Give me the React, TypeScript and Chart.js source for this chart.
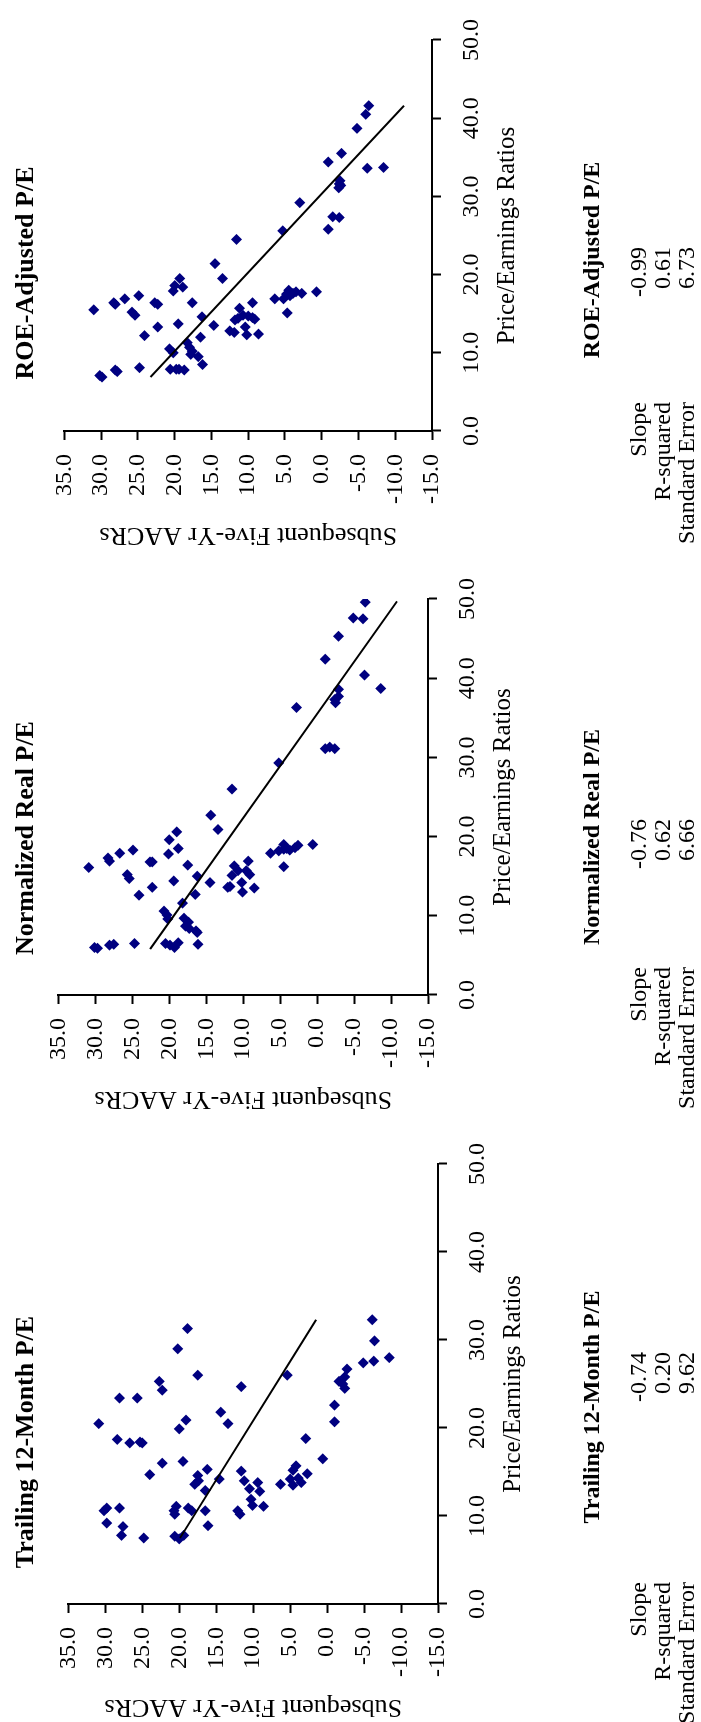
import React, { useEffect, useRef } from "react";
import { Chart, registerables } from "chart.js";

Chart.register(...registerables);

const FONT = "'Liberation Serif', 'Times New Roman', Times, serif";

const peTicks = [0, 10, 20, 30, 40, 50];
const aacrTicks = [-15, -10, -5, 0, 5, 10, 15, 20, 25, 30, 35];

// Trailing 12-Month P/E
const trailingPE = [31.3, 29.0, 26.0, 25.3, 24.3, 23.4, 23.4, 24.7, 26.0, 32.3, 29.9, 27.4, 27.6, 28.0, 26.7, 25.3, 25.8, 25.0, 24.5, 22.6, 20.7, 18.8, 16.5, 21.8, 20.5, 20.5, 20.9, 19.9, 18.7, 18.3, 18.4, 18.3, 16.2, 16.0, 14.7, 15.3, 14.6, 14.0, 13.6, 12.9, 14.2, 15.1, 14.0, 13.1, 13.8, 12.8, 11.9, 11.2, 11.1, 10.6, 10.2, 13.6, 14.2, 13.5, 15.7, 15.2, 14.3, 13.8, 14.8, 10.9, 10.6, 10.9, 9.2, 8.8, 7.8, 7.5, 10.2, 11.1, 10.6, 10.9, 10.6, 10.6, 8.9, 7.7, 7.4, 7.8];
const trailingAACR = [18.9, 20.2, 17.5, 22.7, 22.3, 28.1, 25.7, 11.6, 5.4, -6.1, -6.4, -4.9, -6.3, -8.4, -2.7, -1.6, -2.4, -2.1, -2.4, -1.0, -1.0, 2.9, 0.6, 14.4, 13.4, 30.9, 19.1, 20.0, 28.4, 26.7, 25.3, 25.0, 19.5, 22.3, 24.0, 16.2, 17.5, 17.4, 17.9, 16.5, 14.6, 11.6, 11.2, 10.5, 9.4, 9.1, 10.3, 10.1, 8.6, 12.1, 11.8, 6.3, 5.0, 4.6, 4.2, 4.6, 3.9, 3.5, 2.7, 29.8, 30.2, 28.1, 29.8, 27.6, 27.8, 24.8, 20.6, 20.4, 20.7, 18.8, 18.3, 16.5, 16.1, 20.6, 20.0, 19.4];
const trailingFitPE = [7.5, 32.3];
const trailingFitAACR = [19.9, 1.5];

// Normalized Real P/E
const normalizedPE = [49.6, 47.6, 47.5, 45.3, 42.4, 40.4, 38.7, 38.6, 37.7, 36.9, 37.3, 36.3, 31.1, 31.3, 31.1, 29.3, 26.0, 22.7, 20.9, 20.6, 19.6, 17.8, 18.5, 18.3, 17.9, 17.3, 16.9, 16.1, 16.8, 16.8, 16.4, 15.2, 14.7, 14.4, 15.0, 14.2, 12.6, 13.6, 12.7, 11.6, 10.6, 10.1, 9.6, 9.7, 9.2, 8.7, 8.4, 8.1, 7.9, 6.4, 6.0, 5.9, 6.3, 6.4, 6.5, 6.5, 6.3, 6.0, 6.6, 15.1, 16.3, 13.7, 13.6, 15.7, 14.2, 13.0, 15.7, 15.2, 16.9, 13.5, 17.9, 18.2, 18.4, 18.5, 18.3, 18.6, 18.9, 19.0, 19.0, 16.2];
const normalizedAACR = [-6.5, -4.9, -6.2, -2.9, -1.1, -6.4, -8.6, -2.9, -2.9, -2.5, -2.4, 2.8, -1.1, -1.7, -2.4, 5.2, 11.5, 14.4, 13.4, 19.0, 20.0, 20.1, 18.8, 24.9, 26.7, 28.3, 28.1, 30.9, 22.6, 22.3, 17.5, 25.7, 25.4, 19.4, 16.2, 14.5, 24.1, 22.3, 16.5, 18.2, 20.7, 20.3, 20.2, 18.0, 17.4, 17.8, 17.3, 16.4, 16.2, 16.1, 30.1, 29.7, 28.1, 27.5, 24.7, 20.5, 19.9, 19.3, 18.8, 11.5, 11.2, 11.8, 12.1, 10.7, 10.2, 10.1, 9.6, 9.1, 9.3, 8.5, 6.3, 5.2, 4.5, 4.1, 3.7, 3.0, 2.6, 4.5, 0.6, 4.5];
const normalizedFitPE = [5.8, 49.7];
const normalizedFitAACR = [22.6, -10.8];

// ROE-Adjusted P/E
const roePE = [41.6, 40.5, 38.7, 35.5, 34.4, 33.6, 33.7, 32.0, 31.6, 31.4, 31.1, 29.2, 27.4, 27.3, 25.8, 25.6, 24.5, 21.4, 19.5, 19.5, 18.6, 17.9, 18.4, 17.3, 16.9, 16.4, 16.2, 15.5, 16.4, 16.2, 16.4, 15.2, 14.8, 13.7, 14.6, 13.5, 12.2, 13.3, 12.0, 11.3, 10.7, 10.2, 10.5, 10.0, 9.8, 9.5, 8.5, 7.1, 6.9, 7.8, 7.6, 8.1, 7.9, 7.9, 7.9, 7.8, 15.7, 14.2, 14.4, 14.8, 14.7, 14.5, 14.3, 12.8, 12.6, 13.3, 12.3, 12.4, 16.4, 16.9, 16.9, 17.5, 18.0, 17.3, 17.6, 17.8, 17.6, 15.1, 17.8];
const roeAACR = [-6.4, -6.0, -4.8, -2.7, -0.9, -6.2, -8.4, -2.5, -2.4, -2.6, -2.3, 3.0, -1.5, -2.4, -0.9, 5.3, 11.6, 14.5, 13.5, 19.3, 20.0, 20.2, 18.9, 24.9, 26.8, 28.3, 28.1, 31.0, 22.7, 22.3, 17.6, 25.8, 25.4, 19.5, 16.3, 14.7, 24.1, 22.3, 16.5, 18.3, 18.0, 17.6, 20.7, 20.2, 17.8, 16.8, 16.2, 30.2, 29.9, 28.1, 27.8, 24.8, 20.6, 19.8, 19.4, 18.7, 11.2, 11.8, 11.4, 10.7, 10.0, 9.4, 9.1, 12.5, 11.9, 10.4, 10.2, 8.6, 9.4, 6.4, 5.2, 4.8, 4.5, 4.3, 3.9, 3.5, 2.7, 4.7, 0.7];
const roeFitPE = [6.9, 41.6];
const roeFitAACR = [23.3, -11.2];

const statLabels = ["Slope", "R-squared", "Standard Error"];
const trailingStats = ["-0.74", "0.20", "9.62"];
const normalizedStats = ["-0.76", "0.62", "6.66"];
const roeStats = ["-0.99", "0.61", "6.73"];

const panelTitles = ["Trailing 12-Month P/E", "Normalized Real P/E", "ROE-Adjusted P/E"];
const xTitle = "Price/Earnings Ratios";
const yTitle = "Subsequent Five-Yr AACRs";

type PanelProps = {
  pe: number[];
  aacr: number[];
  fitPE: number[];
  fitAACR: number[];
  left: number;
  top: number;
  width: number;
  height: number;
  yAxisWidth: number;
  padRight: number;
};

function ScatterPanel(p: PanelProps) {
  const ref = useRef<HTMLCanvasElement>(null);
  useEffect(() => {
    const tickFont = { family: FONT, size: 24 };
    const chart = new Chart(ref.current as HTMLCanvasElement, {
      type: "scatter",
      data: {
        datasets: [
          {
            type: "line",
            data: p.fitPE.map((x, i) => ({ x, y: p.fitAACR[i] })),
            borderColor: "#000000",
            borderWidth: 2,
            pointRadius: 0,
            fill: false,
            order: 0,
          } as any,
          {
            data: p.pe.map((x, i) => ({ x, y: p.aacr[i] })),
            pointStyle: "rectRot",
            pointRadius: 5.5,
            backgroundColor: "#000080",
            borderColor: "#000080",
            borderWidth: 0,
            order: 1,
          },
        ],
      },
      options: {
        animation: false,
        responsive: false,
        maintainAspectRatio: false,
        devicePixelRatio: 1,
        events: [],
        layout: { padding: { top: 20, right: p.padRight, left: 0, bottom: 0 } },
        plugins: { legend: { display: false }, tooltip: { enabled: false }, title: { display: false } },
        scales: {
          x: {
            type: "linear",
            position: "bottom",
            min: 0,
            max: 50,
            afterBuildTicks: (s: any) => {
              s.ticks = peTicks.map((v) => ({ value: v }));
            },
            afterFit: (s: any) => {
              s.height = 90;
            },
            ticks: {
              callback: (v: any) => Number(v).toFixed(1),
              font: tickFont,
              color: "#000000",
              padding: 16,
              maxRotation: 0,
              minRotation: 0,
              autoSkip: false,
            },
            grid: { drawOnChartArea: false, drawTicks: true, tickLength: 9, tickWidth: 2, tickColor: "#000000" },
            border: { display: true, color: "#000000", width: 2 },
            title: { display: true, text: xTitle, font: { family: FONT, size: 25 }, color: "#000000", padding: 0 },
          },
          y: {
            type: "linear",
            position: "left",
            min: -15,
            max: 35,
            afterBuildTicks: (s: any) => {
              s.ticks = aacrTicks.map((v) => ({ value: v }));
            },
            afterFit: (s: any) => {
              s.width = p.yAxisWidth;
            },
            ticks: {
              callback: (v: any) => Number(v).toFixed(1),
              font: tickFont,
              color: "#000000",
              padding: 14,
              autoSkip: false,
            },
            grid: { drawOnChartArea: false, drawTicks: true, tickLength: 9, tickWidth: 2, tickColor: "#000000" },
            border: { display: true, color: "#000000", width: 2 },
            title: { display: true, text: yTitle, font: { family: FONT, size: 26 }, color: "#000000", padding: 0 },
          },
        },
      } as any,
    });
    return () => chart.destroy();
  }, []);
  return (
    <canvas
      ref={ref}
      width={p.width}
      height={p.height}
      style={{ position: "absolute", left: p.left, top: p.top, width: p.width, height: p.height }}
    />
  );
}

function CenterText(props: { cx: number; top: number; size: number; bold?: boolean; text: string }) {
  return (
    <div
      style={{
        position: "absolute",
        left: props.cx - 300,
        width: 600,
        top: props.top,
        textAlign: "center",
        fontSize: props.size,
        lineHeight: props.size + "px",
        fontWeight: props.bold ? "bold" : "normal",
        whiteSpace: "nowrap",
      }}
    >
      {props.text}
    </div>
  );
}

function RightText(props: { right: number; top: number; size: number; text: string }) {
  return (
    <div
      style={{
        position: "absolute",
        left: props.right - 400,
        width: 400,
        top: props.top,
        textAlign: "right",
        fontSize: props.size,
        lineHeight: props.size + "px",
        whiteSpace: "nowrap",
      }}
    >
      {props.text}
    </div>
  );
}

function Stats(props: { titleCx: number; labelRight: number; valueRight: number; title: string; values: string[] }) {
  const rowTops = [626, 650, 674];
  return (
    <>
      <CenterText cx={props.titleCx} top={579} size={24} bold text={props.title} />
      {statLabels.map((l, i) => (
        <RightText key={"l" + i} right={props.labelRight} top={rowTops[i]} size={24} text={l} />
      ))}
      {props.values.map((v, i) => (
        <RightText key={"v" + i} right={props.valueRight} top={rowTops[i]} size={24} text={v} />
      ))}
    </>
  );
}

export default function App() {
  return (
    <div
      style={{
        position: "fixed",
        left: 0,
        top: 0,
        width: 1722,
        height: 701,
        overflow: "hidden",
        background: "#ffffff",
        color: "#000000",
        fontFamily: FONT,
        transformOrigin: "0 0",
        transform: "translateY(1722px) rotate(-90deg)",
      }}
    >
      <ScatterPanel pe={trailingPE} aacr={trailingAACR} fitPE={trailingFitPE} fitAACR={trailingFitAACR}
        left={0} top={40} width={595} height={488} yAxisWidth={118} padRight={30} />
      <ScatterPanel pe={normalizedPE} aacr={normalizedAACR} fitPE={normalizedFitPE} fitAACR={normalizedFitAACR}
        left={608} top={30} width={552} height={488} yAxisWidth={119} padRight={30} />
      <ScatterPanel pe={roePE} aacr={roeAACR} fitPE={roeFitPE} fitAACR={roeFitAACR}
        left={1172} top={36} width={547} height={486} yAxisWidth={119} padRight={25} />

      <CenterText cx={280} top={12} size={26} bold text={panelTitles[0]} />
      <CenterText cx={884} top={12} size={26} bold text={panelTitles[1]} />
      <CenterText cx={1449} top={12} size={26} bold text={panelTitles[2]} />

      <Stats titleCx={315} labelRight={140} valueRight={370} title={panelTitles[0]} values={trailingStats} />
      <Stats titleCx={885} labelRight={755} valueRight={903} title={panelTitles[1]} values={normalizedStats} />
      <Stats titleCx={1462} labelRight={1320} valueRight={1475} title={panelTitles[2]} values={roeStats} />
    </div>
  );
}
